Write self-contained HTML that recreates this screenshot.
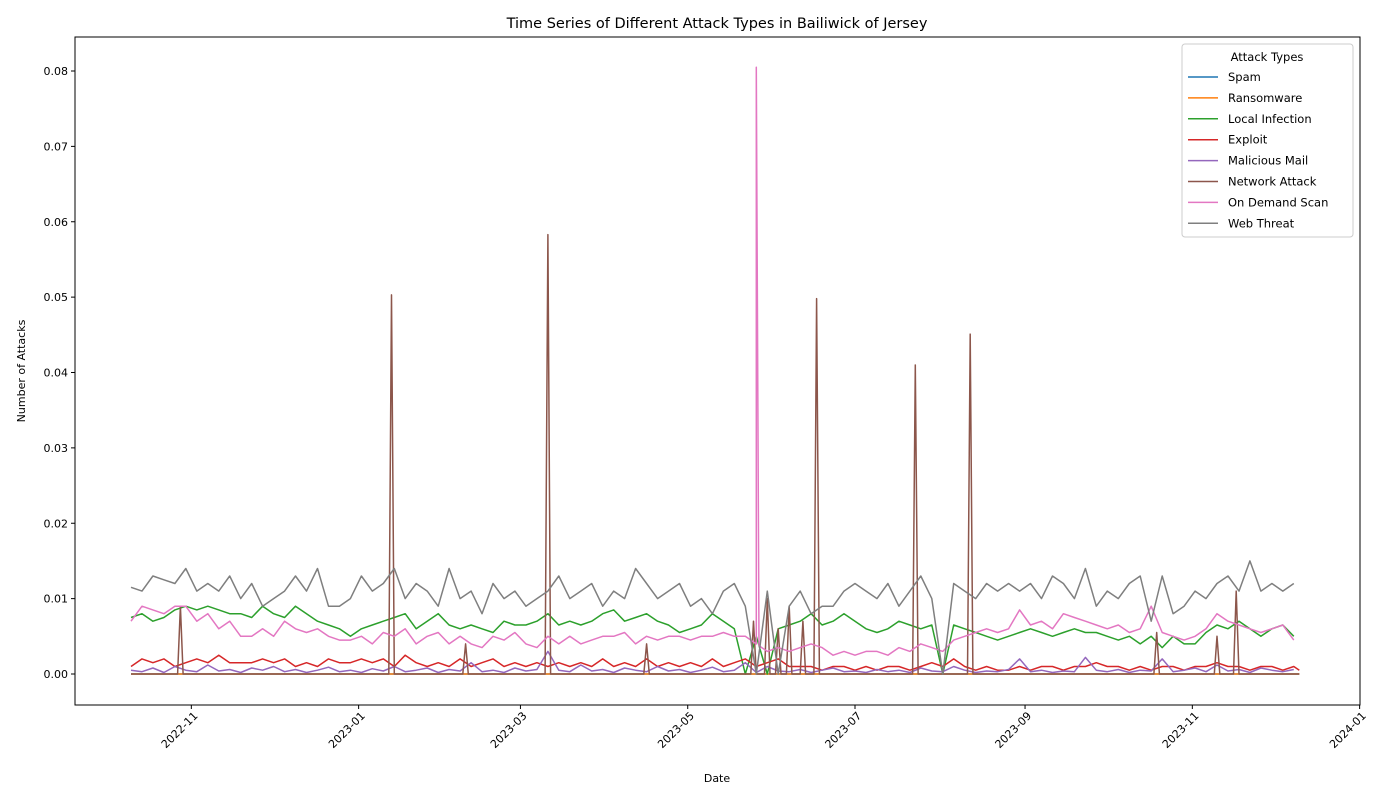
<!DOCTYPE html>
<html><head><meta charset="utf-8"><style>
html,body{margin:0;padding:0;background:#fff;}
svg{display:block;font-family:"DejaVu Sans","Liberation Sans",sans-serif;}
</style></head><body>
<svg id="chart" width="1400" height="800"></svg>
<script>
// ---- data (thousandths of attacks), base series sampled every 4 days from 2022-10-10 ----
const startDate = "2022-10-10";
const stepDays = 4;
const seriesNames = ["Spam","Ransomware","Local Infection","Exploit","Malicious Mail","Network Attack","On Demand Scan","Web Threat"];
const seriesColors = ["#1f77b4","#ff7f0e","#2ca02c","#d62728","#9467bd","#8c564b","#e377c2","#7f7f7f"];
const spamVals = [0,0];
const ransomwareVals = [0,0];
const localInfectionVals = [7.5,8,7,7.5,8.5,9,8.5,9,8.5,8,8,7.5,9,8,7.5,9,8,7,6.5,6,5,6,6.5,7,7.5,8,6,7,8,6.5,6,6.5,6,5.5,7,6.5,6.5,7,8,6.5,7,6.5,7,8,8.5,7,7.5,8,7,6.5,5.5,6,6.5,8,7,6,0,5,0,6,6.5,7,8,6.5,7,8,7,6,5.5,6,7,6.5,6,6.5,0,6.5,6,5.5,5,4.5,5,5.5,6,5.5,5,5.5,6,5.5,5.5,5,4.5,5,4,5,3.5,5,4,4,5.5,6.5,6,7,6,5,6,6.5,5];
const exploitVals = [1,2,1.5,2,1,1.5,2,1.5,2.5,1.5,1.5,1.5,2,1.5,2,1,1.5,1,2,1.5,1.5,2,1.5,2,1,2.5,1.5,1,1.5,1,2,1,1.5,2,1,1.5,1,1.5,1,1.5,1,1.5,1,2,1,1.5,1,2,1,1.5,1,1.5,1,2,1,1.5,2,1,1.5,2,1,1,1,0.5,1,1,0.5,1,0.5,1,1,0.5,1,1.5,1,2,1,0.5,1,0.5,0.5,1,0.5,1,1,0.5,1,1,1.5,1,1,0.5,1,0.5,1,1,0.5,1,1,1.5,1,1,0.5,1,1,0.5,1,0.5];
const mailVals = [0.5,0.3,0.8,0.2,1,0.5,0.3,1.2,0.4,0.6,0.2,0.8,0.5,1,0.3,0.6,0.2,0.5,0.9,0.3,0.5,0.2,0.7,0.4,1,0.3,0.5,0.8,0.2,0.6,0.4,1.5,0.3,0.5,0.2,0.8,0.4,0.6,3,0.5,0.3,1.2,0.4,0.6,0.2,0.8,0.5,0.3,1,0.4,0.6,0.2,0.5,0.9,0.3,0.5,1.5,0.2,1,0.4,0.3,0.6,0.2,0.5,0.8,0.3,0.4,0.2,0.6,0.3,0.5,0.2,0.8,0.4,0.3,1,0.5,0.2,0.4,0.3,0.6,2,0.3,0.5,0.2,0.4,0.3,2.2,0.5,0.3,0.6,0.2,0.5,0.4,2,0.3,0.5,0.8,0.3,1.2,0.4,0.6,0.2,0.8,0.5,0.3,0.6];
const networkVals = [0,0];
const onDemandVals = [7,9,8.5,8,9,9,7,8,6,7,5,5,6,5,7,6,5.5,6,5,4.5,4.5,5,4,5.5,5,6,4,5,5.5,4,5,4,3.5,5,4.5,5.5,4,3.5,5,4,5,4,4.5,5,5,5.5,4,5,4.5,5,5,4.5,5,5,5.5,5,5,4,3,3.5,3,3.5,4,3.5,2.5,3,2.5,3,3,2.5,3.5,3,4,3.5,3,4.5,5,5.5,6,5.5,6,8.5,6.5,7,6,8,7.5,7,6.5,6,6.5,5.5,6,9,5.5,5,4.5,5,6,8,7,6.5,6,5.5,6,6.5,4.5];
const webThreatVals = [11.5,11,13,12.5,12,14,11,12,11,13,10,12,9,10,11,13,11,14,9,9,10,13,11,12,14,10,12,11,9,14,10,11,8,12,10,11,9,10,11,13,10,11,12,9,11,10,14,12,10,11,12,9,10,8,11,12,9,0,11,0,9,11,8,9,9,11,12,11,10,12,9,11,13,10,0,12,11,10,12,11,12,11,12,10,13,12,10,14,9,11,10,12,13,7,13,8,9,11,10,12,13,11,15,11,12,11,12];
// spikes: day offset from start, value (thousandths)
const networkSpikeDays = [18,95,122,152,188,227,232,236,240,245,250,286,306,374,396,403];
const networkSpikeVals = [9,50.3,4,58.3,4,7,10,6,9,7,49.8,41,45.1,5.5,5,11];
const onDemandSpikeDays = [228];
const onDemandSpikeVals = [80.5];
const lastDay = 426;
const yTicks = [0,0.01,0.02,0.03,0.04,0.05,0.06,0.07,0.08];
const xTickDates = ["2022-11-01","2023-01-01","2023-03-01","2023-05-01","2023-07-01","2023-09-01","2023-11-01","2024-01-01"];
const xTickLabels = ["2022-11","2023-01","2023-03","2023-05","2023-07","2023-09","2023-11","2024-01"];
const SCALE = 0.001;

const NS="http://www.w3.org/2000/svg";
const svg=document.getElementById('chart');
const L=75,R=1360,T=37,B=705;
const dayMs=86400000;
const t0=Date.parse(startDate);
const xDay0=131, pxPerDay=1001/365;
function xOfDay(d){return xDay0+d*pxPerDay;}
function xOfDate(s){return xOfDay((Date.parse(s)-t0)/dayMs);}
function yOf(v){return 674-v*(603/0.08);}
function mk(tag,attrs,parent){const e=document.createElementNS(NS,tag);for(const k in attrs)e.setAttribute(k,attrs[k]);(parent||svg).appendChild(e);return e;}

const frame=mk('rect',{x:L,y:T,width:R-L,height:B-T,fill:'none',stroke:'#000','stroke-width':1});



const title=mk('text',{x:717,y:28,'text-anchor':'middle','font-size':14.5});
title.textContent='Time Series of Different Attack Types in Bailiwick of Jersey';



yTicks.forEach(v=>{
  const y=yOf(v);
  const tk=mk('line',{x1:L-4,x2:L,y1:y,y2:y,stroke:'#000'});
  
  
  const t=mk('text',{x:L-7,y:y+4,'text-anchor':'end','font-size':11});
  t.textContent=v.toFixed(2);
  
  
});
xTickDates.forEach((d,i)=>{
  const x=xOfDate(d);
  const tk=mk('line',{x1:x,x2:x,y1:B,y2:B+4,stroke:'#000'});
  
  
  const t=mk('text',{x:x,y:B+10,'text-anchor':'end','font-size':11,transform:`rotate(-45 ${x} ${B+10})`,dx:4,dy:6});
  t.textContent=xTickLabels[i];
  
  
});
const xl=mk('text',{x:717,y:782,'text-anchor':'middle','font-size':11});
xl.textContent='Date';


const yl=mk('text',{x:25,y:371,'text-anchor':'middle','font-size':11,transform:'rotate(-90 25 371)'});
yl.textContent='Number of Attacks';



function basePoints(vals){
  if(vals.length<3) return [[0,vals[0]||0],[lastDay,vals[1]||0]];
  return vals.map((v,i)=>[Math.min(i*stepDays,lastDay),v]);
}
function baseAt(pts,d){
  for(let i=1;i<pts.length;i++){if(pts[i][0]>=d){const a=pts[i-1],b=pts[i];const f=(d-a[0])/((b[0]-a[0])||1);return a[1]+f*(b[1]-a[1]);}}
  return pts[pts.length-1][1];
}
function withSpikes(pts,days,vals){
  const all=pts.slice();
  days.forEach((d,i)=>{all.push([d-1,baseAt(pts,d-1)]);all.push([d,vals[i]]);all.push([d+1,baseAt(pts,d+1)]);});
  all.sort((a,b)=>a[0]-b[0]);
  return all;
}
const seriesData=[
  basePoints(spamVals),
  basePoints(ransomwareVals),
  basePoints(localInfectionVals),
  basePoints(exploitVals),
  basePoints(mailVals),
  withSpikes(basePoints(networkVals),networkSpikeDays,networkSpikeVals),
  withSpikes(basePoints(onDemandVals),onDemandSpikeDays,onDemandSpikeVals),
  basePoints(webThreatVals)
];
seriesData.forEach((s,si)=>{
  const pts=s.map(p=>xOfDay(p[0]).toFixed(1)+','+yOf(p[1]*SCALE).toFixed(1)).join(' ');
  const pl=mk('polyline',{points:pts,fill:'none',stroke:seriesColors[si],'stroke-width':1.5,'stroke-linejoin':'round'});
  
  
});

// legend
const lg=mk('g',{});


mk('rect',{x:1182,y:44,width:171,height:193,rx:3,fill:'#fff','fill-opacity':0.8,stroke:'#ccc'},lg);
const lt=mk('text',{x:1267,y:61,'text-anchor':'middle','font-size':11.5},lg);
lt.textContent='Attack Types';
seriesNames.forEach((n,i)=>{
  const y=77+i*20.9;
  const e=mk('g',{},lg);
  
  
  mk('line',{x1:1188,x2:1218,y1:y,y2:y,stroke:seriesColors[i],'stroke-width':1.5},e);
  const t=mk('text',{x:1228,y:y+4,'font-size':11.5},e);
  t.textContent=n;
});
</script>
</body></html>
